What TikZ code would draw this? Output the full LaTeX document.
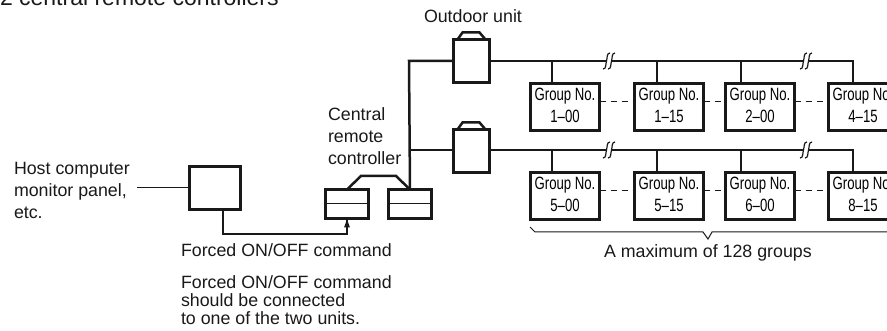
\documentclass[tikz,border=0pt]{standalone}
\usepackage{fontspec}
\usepackage{graphicx}
\setmainfont{Liberation Sans}
\usetikzlibrary{arrows.meta}
\newcommand{\lbl}[1]{\fontsize{17.8}{18}\selectfont #1}
\newcommand{\grp}[1]{\raisebox{-1.5pt}{\scalebox{.74}[1]{\fontsize{17.8}{22}\selectfont\begin{tabular}{@{}c@{}}Group No.\\#1\end{tabular}}}}
\tikzset{
  heavy/.style={line width=2.5pt,line join=miter,black!90},
  thin line/.style={line width=1pt,black!90},
  dashline/.style={line width=1pt,black!90,dash pattern=on 6pt off 5pt},
  groupbox/.style={heavy,draw,fill=white,text=black,minimum width=69pt,minimum height=47pt,inner sep=0pt,outer sep=0pt},
  unitbox/.style={heavy,draw,fill=white,minimum width=36pt,minimum height=43pt,inner sep=0pt,outer sep=0pt},
  ctrlbox/.style={heavy,draw,fill=white,minimum width=43pt,minimum height=29pt,inner sep=0pt,outer sep=0pt},
  hostbox/.style={heavy,draw,fill=white,minimum width=51pt,minimum height=43pt,inner sep=0pt,outer sep=0pt},
  txt/.style={anchor=base west,inner sep=0pt,outer sep=0pt,text=black!90},
  breakmark/.pic={
    \fill[white] (-3,5) -- (-3,-5) -- (3,-5) -- (3,5) -- cycle;
    \draw[thin line,line width=1.2pt] (-6,8) .. controls (-2.5,8) and (-3.5,3) .. (-2.5,0) .. controls (-1.5,-3) and (-2.5,-8) .. (1,-8);
    \draw[thin line,line width=1.2pt] (-1,8) .. controls (2.5,8) and (1.5,3) .. (2.5,0) .. controls (3.5,-3) and (2.5,-8) .. (6,-8);
  }
}
\begin{document}
\begin{tikzpicture}[x=1pt,y=-1pt]
\clip (0,0) rectangle (887,331);
% text
\node[txt] (title) at (0,6) {\fontsize{23}{24}\selectfont 2 central remote controllers};
\node[txt] (outlbl) at (424,23) {\lbl{Outdoor unit}};
\node[txt] (c1) at (328,121) {\lbl{Central}};
\node[txt] (c2) at (328,143) {\lbl{remote}};
\node[txt] (c3) at (328,165) {\lbl{controller}};
\node[txt] (h1) at (14,175) {\lbl{Host computer}};
\node[txt] (h2) at (14,197) {\lbl{monitor panel,}};
\node[txt] (h3) at (14,219) {\lbl{etc.}};
\node[txt] (f0) at (181,257) {\lbl{Forced ON/OFF command}};
\node[txt] (f1) at (181,289) {\lbl{Forced ON/OFF command}};
\node[txt] (f2) at (181,307) {\lbl{should be connected}};
\node[txt] (f3) at (181,325) {\lbl{to one of the two units.}};
\node[txt] (maxlbl) at (604,258) {\lbl{A maximum of 128 groups}};
% boxes
\node[unitbox] (out1) at (471.5,61) {};
\node[unitbox] (out2) at (471.5,151) {};
\node[hostbox] (host) at (215,188) {};
\node[ctrlbox] (ca) at (347,204) {};
\node[ctrlbox] (cb) at (410,204) {};
\node[groupbox] (g1) at (565,107) {\grp{1–00}};
\node[groupbox] (g2) at (669,107) {\grp{1–15}};
\node[groupbox] (g3) at (760,107) {\grp{2–00}};
\node[groupbox] (g4) at (863,107) {\grp{4–15}};
\node[groupbox] (g5) at (565,196) {\grp{5–00}};
\node[groupbox] (g6) at (669,196) {\grp{5–15}};
\node[groupbox] (g7) at (760,196) {\grp{6–00}};
\node[groupbox] (g8) at (863,196) {\grp{8–15}};
% unit caps
\draw[heavy] ([xshift=4pt]out1.north west) -- ++(5,-7) -- ++(17,0) -- ([xshift=-4pt]out1.north east);
\draw[heavy] ([xshift=4pt]out2.north west) -- ++(5,-7) -- ++(17,0) -- ([xshift=-4pt]out2.north east);
% controller dividers
\draw[thin line] (ca.west) -- (ca.east);
\draw[thin line] (cb.west) -- (cb.east);
% coordinates
\coordinate (top) at (409,61);
\coordinate (mid) at (409,150);
\coordinate (bus1) at (853,61);
\coordinate (bus2) at (853,150);
\coordinate (t1) at (552,61);
\coordinate (t2) at (657,61);
\coordinate (t3) at (741,61);
\coordinate (t5) at (552,150);
\coordinate (t6) at (657,150);
\coordinate (t7) at (741,150);
\coordinate (hl) at (137,188);
\coordinate (hc) at (223,234);
\coordinate (l1) at (361,176);
\coordinate (l2) at (396,176);
% wiring
\draw[heavy] (cb.north) -- (top) -- (out1.west);
\draw[heavy] (mid) -- (mid -| out2.west);
\draw[heavy] (out1.east) -- (bus1) -- (bus1 |- g4.north);
\draw[heavy] (mid -| out2.east) -- (bus2) -- (bus2 |- g8.north);
\foreach \t/\g in {t1/g1,t2/g2,t3/g3,t5/g5,t6/g6,t7/g7}{
  \draw[heavy] (\t) -- (\t |- \g.north);
}
\draw[heavy] (ca.north) -- (l1) -- (l2) -- (cb.north);
\draw[heavy] (hc |- host.south) -- (hc) -| (ca.south);
\fill[black!90] (ca.south) ++(0,1) -- ++(3,8) -- ++(-6,0) -- cycle;
\draw[thin line] (hl) -- (host.west);
% break marks
\pic at (609,61) {breakmark};
\pic at (806,61) {breakmark};
\pic at (609,150) {breakmark};
\pic at (806,150) {breakmark};
% dashed links
\draw[dashline] ([yshift=5pt]g1.east) -- ([yshift=5pt]g2.west);
\draw[dashline] ([yshift=5pt]g2.east) -- ([yshift=5pt]g3.west);
\draw[dashline] ([yshift=5pt]g3.east) -- ([yshift=5pt]g4.west);
\draw[dashline] ([yshift=5pt]g5.east) -- ([yshift=5pt]g6.west);
\draw[dashline] ([yshift=5pt]g6.east) -- ([yshift=5pt]g7.west);
\draw[dashline] ([yshift=5pt]g7.east) -- ([yshift=5pt]g8.west);
% brace
\coordinate (br0) at (530,227);
\coordinate (br1) at (535,232);
\coordinate (br2) at (703,232);
\coordinate (br3) at (708,239);
\coordinate (br4) at (712,232);
\coordinate (br5) at (887,232);
\draw[thin line] (br0) -- (br1) -- (br2) -- (br3) -- (br4) -- (br5);
\end{tikzpicture}
\end{document}
